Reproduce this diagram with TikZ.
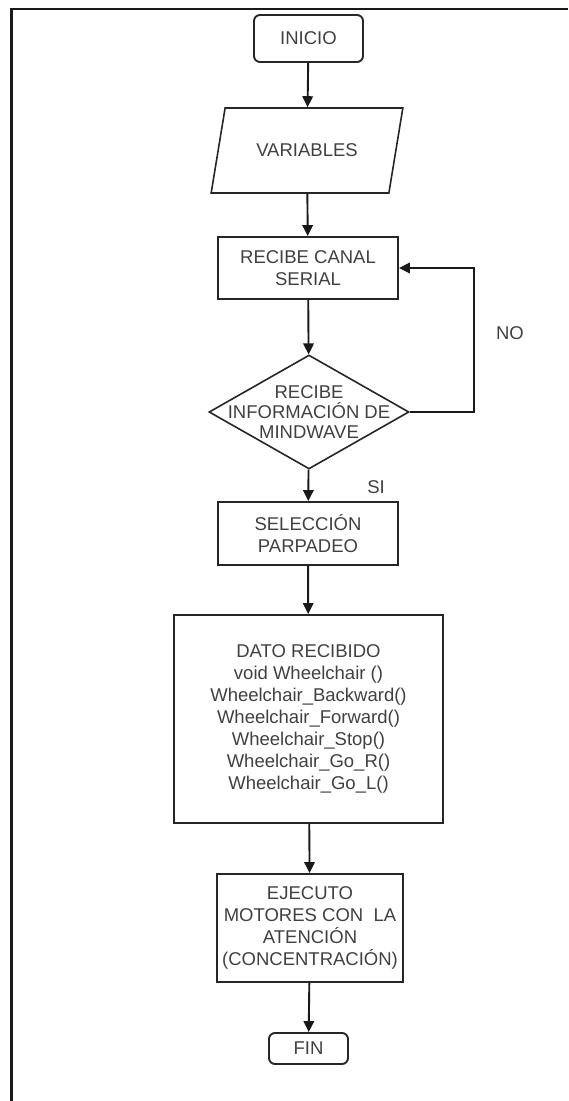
\documentclass[tikz,border=0pt]{standalone}
\usepackage{fontspec}
\setmainfont{Liberation Sans}
\usetikzlibrary{arrows, arrows.meta}
\usetikzlibrary{shapes.geometric}
\usetikzlibrary{positioning}

\begin{document}
\begin{tikzpicture}[x=1pt, y=-1pt,
	box/.style={draw=black!85, line width=1.9pt, rectangle, align=center, text=black!75, inner sep=2pt},
	rbox/.style={box, rounded corners=6pt},
	io/.style={draw=black!85, line width=1.6pt, trapezium, trapezium left angle=65, trapezium right angle=115, trapezium stretches=true, text=black!75},
	decision/.style={draw=black!85, line width=1.6pt, diamond, inner sep=0pt},
	txt/.style={align=center, text=black!75},
	arr/.style={-{Triangle[length=11pt,width=10.5pt]}, line width=1.9pt, black!90},
	font=\fontsize{18.5}{22}\selectfont]
	\useasboundingbox (0,0) rectangle (568,1101);
	
	% frame
	\draw[line width=2.2pt, black!90] (11.5,1101) -- (11.5,9) -- (568,9);
	
	\node[rbox, minimum width=109pt, minimum height=47pt] (inicio) at (308.5,38.5) {INICIO};
	\node[io, minimum width=192pt, minimum height=85pt] (variables) at (307,150.5) {VARIABLES};
	\node[box, minimum width=180pt, minimum height=62pt] (recibe) at (308,268) {RECIBE CANAL\\SERIAL};
	\node[decision, minimum width=200pt, minimum height=114pt] (dec) at (309,412) {};
	\node[txt, font=\fontsize{18.5}{20}\selectfont] (dectxt) at (dec) {RECIBE\\INFORMACIÓN DE\\MINDWAVE};
	\node[box, minimum width=180pt, minimum height=63pt] (seleccion) at (308,533.5) {SELECCIÓN\\PARPADEO};
	\node[box, minimum width=269pt, minimum height=208pt] (dato) at (308.5,719) {DATO RECIBIDO\\void Wheelchair ()\\Wheelchair\_Backward()\\Wheelchair\_Forward()\\Wheelchair\_Stop()\\Wheelchair\_Go\_R()\\Wheelchair\_Go\_L()};
	\node[box, minimum width=186pt, minimum height=108pt] (ejecuto) at (310,928) {EJECUTO\\MOTORES CON~~LA\\ATENCIÓN\\(CONCENTRACIÓN)};
	\node[rbox, minimum width=79pt, minimum height=31pt] (fin) at (308.5,1048.5) {FIN};
	
	% labels
	\node[txt] (no) at (510,333) {NO};
	\node[txt] (si) at (376,487) {SI};
	
	% add arrows
	\draw[arr] (inicio) -- (variables);
	\draw[arr] (variables) -- (recibe);
	\draw[arr] (recibe) -- (dec);
	\draw[arr] (dec) -- (seleccion);
	\draw[arr] (seleccion) -- (dato);
	\draw[arr] (dato) -- (ejecuto);
	\draw[arr] (ejecuto) -- (fin);
	\coordinate (bend) at (474,412);
	\draw[arr] (dec.east) -- (bend) |- (recibe.east);
\end{tikzpicture}
\end{document}
